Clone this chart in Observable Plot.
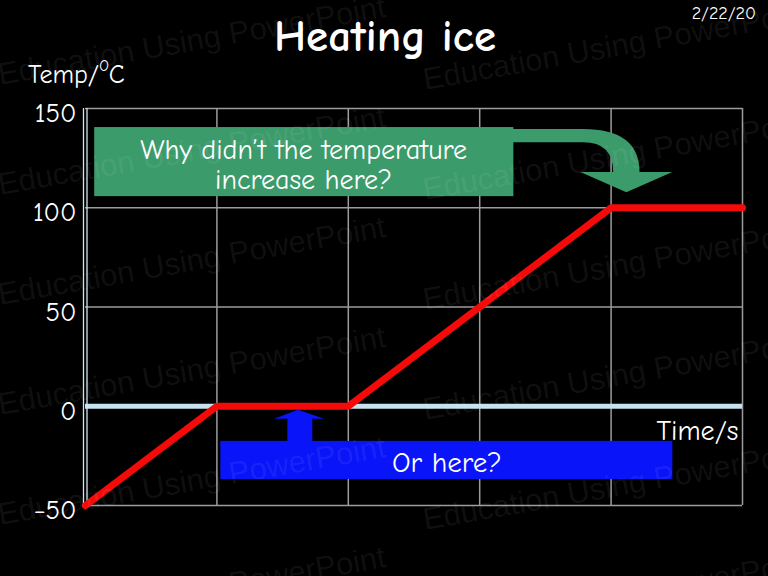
<!DOCTYPE html>
<html><head><meta charset="utf-8">
<script src="https://cdn.jsdelivr.net/npm/d3@7"></script>
<script src="https://cdn.jsdelivr.net/npm/@observablehq/plot@0.6"></script>
<style>
html,body{margin:0;padding:0;background:#000;}
#wrap{position:relative;width:768px;height:576px;background:#000;overflow:hidden;font-family:"Comic Sans MS","Comic Neue","DejaVu Sans",sans-serif;color:#fff;}
#chart{position:absolute;left:0;top:0;}
#title{position:absolute;left:0;width:770px;top:12px;text-align:center;font-size:45px;font-weight:bold;line-height:1.1;}
#date{position:absolute;right:12px;top:3px;font-size:18px;}
#ylabel{position:absolute;left:28px;top:59px;font-size:26px;}
#ylabel sup{font-size:15px;position:relative;top:-2px;}
#wm{position:absolute;left:0;top:0;pointer-events:none;}
</style></head><body>
<div id="wrap">
  <div id="chart"></div>
  <div id="title">Heating ice</div>
  <div id="date">2/22/20</div>
  <div id="ylabel">Temp/<sup>O</sup>C</div>
  <svg id="wm" width="768" height="576"></svg>
</div>
<script>
// ---- data ----
const times = [0, 1, 2, 4, 5];
const temps = [-50, 0, 0, 100, 100];
const yTicks = [-50, 0, 50, 100, 150];
const xGrid = [1, 2, 3, 4, 5];
const yGrid = [-50, 50, 100, 150];
const question1 = "Why didn’t the temperature\nincrease here?";
const question2 = "Or here?";
const xLabel = "Time/s";
const watermark = "Education Using PowerPoint";

// annotation geometry in data units (time, temp)
const box1 = [{x1: 0.07, x2: 3.26, y1: 105.6, y2: 140.4}];
const box1Text = [{x: 1.66, y: 122, text: question1}];
const box2 = [{x1: 1.03, x2: 4.47, y1: -36.9, y2: -17.7}];
const box2Text = [{x: 2.75, y: -28.6, text: question2}];
const xLabelPos = [{x: 5, y: -12.6, text: xLabel}];
const bend = {x0: 3.2, yTop: 139.4, yBot: 132.8, xBend: 3.79, xOuter: 4.22, xInner: 4.02,
              yHead: 117.7, headL: 3.77, headR: 4.47, tipX: 4.12, tipY: 107.6};
const up = {shaftL: 1.54, shaftR: 1.73, base: -17.7, headY: -6.6, headL: 1.44, headR: 1.82, tipX: 1.62, tipY: -2.0};

const GREEN = "#3c9b6b", BLUE = "#0a14f8", RED = "#f50a0a";
const series = times.map((t, i) => ({t, v: temps[i]}));

function bendArrow(index, scales) {
  const x = scales.x, y = scales.y, b = bend;
  const d = `M${x(b.x0)},${y(b.yTop)} L${x(b.xBend)},${y(b.yTop)} Q${x(b.xOuter)},${y(b.yTop)} ${x(b.xOuter)},${y(b.yHead)}`
    + ` L${x(b.headR)},${y(b.yHead)} L${x(b.tipX)},${y(b.tipY)} L${x(b.headL)},${y(b.yHead)} L${x(b.xInner)},${y(b.yHead)}`
    + ` Q${x(b.xInner)},${y(b.yBot)} ${x(b.xBend)},${y(b.yBot)} L${x(b.x0)},${y(b.yBot)} Z`;
  return d3.create("svg:path").attr("d", d).attr("fill", GREEN).node();
}
function upArrow(index, scales) {
  const x = scales.x, y = scales.y, u = up;
  const d = `M${x(u.shaftL)},${y(u.base)} L${x(u.shaftL)},${y(u.headY)} L${x(u.headL)},${y(u.headY)} L${x(u.tipX)},${y(u.tipY)}`
    + ` L${x(u.headR)},${y(u.headY)} L${x(u.shaftR)},${y(u.headY)} L${x(u.shaftR)},${y(u.base)} Z`;
  return d3.create("svg:path").attr("d", d).attr("fill", BLUE).node();
}

const font = '"Comic Sans MS","Comic Neue","DejaVu Sans",sans-serif';
const chart = Plot.plot({
  width: 768, height: 576,
  marginTop: 108, marginBottom: 71, marginLeft: 85, marginRight: 26,
  style: {background: "transparent", color: "#fff", fontFamily: font},
  x: {domain: [0, 5], axis: null},
  y: {domain: [-50, 150]},
  marks: [
    Plot.ruleX(xGrid, {stroke: "#9c9c9c", strokeWidth: 1.5}),
    Plot.ruleY(yGrid, {stroke: "#9c9c9c", strokeWidth: 1.5}),
    Plot.ruleY([0], {stroke: "#c6e2ee", strokeWidth: 5}),
    Plot.ruleX([0], {stroke: "#cfe6f2", strokeWidth: 1.3, dx: -2}),
    Plot.ruleX([0], {stroke: "#cfe6f2", strokeWidth: 1.3, dx: 1.5}),
    Plot.axisY({ticks: yTicks, tickSize: 0, tickPadding: 9, fontSize: 27, dy: 5, label: null, fill: "#fff"}),
    Plot.line(series, {x: "t", y: "v", stroke: RED, strokeWidth: 7, strokeLinejoin: "miter"}),
    Plot.rect(box1, {x1: "x1", x2: "x2", y1: "y1", y2: "y2", fill: GREEN}),
    bendArrow,
    Plot.text(box1Text, {x: "x", y: "y", text: "text", fill: "#fff", fontSize: 28, lineHeight: 1.1}),
    Plot.rect(box2, {x1: "x1", x2: "x2", y1: "y1", y2: "y2", fill: BLUE}),
    upArrow,
    Plot.text(box2Text, {x: "x", y: "y", text: "text", fill: "#fff", fontSize: 29}),
    Plot.text(xLabelPos, {x: "x", y: "y", text: "text", fill: "#fff", fontSize: 28, textAnchor: "end", dx: -4})
  ]
});
document.getElementById("chart").appendChild(chart);

// faint watermark overlay
const wm = d3.select("#wm");
[0, 425].forEach((wx, ci) => {
  [85, 195, 305, 415, 525, 635].forEach(wy => {
    wm.append("text").attr("x", wx).attr("y", wy + ci * 5)
      .attr("transform", `rotate(-10 ${wx} ${wy + ci * 5})`)
      .attr("font-family", '"Liberation Sans",Arial,sans-serif').attr("font-size", 31)
      .attr("fill", "#fff").attr("fill-opacity", 0.07).text(watermark);
  });
});
</script>
</body></html>
